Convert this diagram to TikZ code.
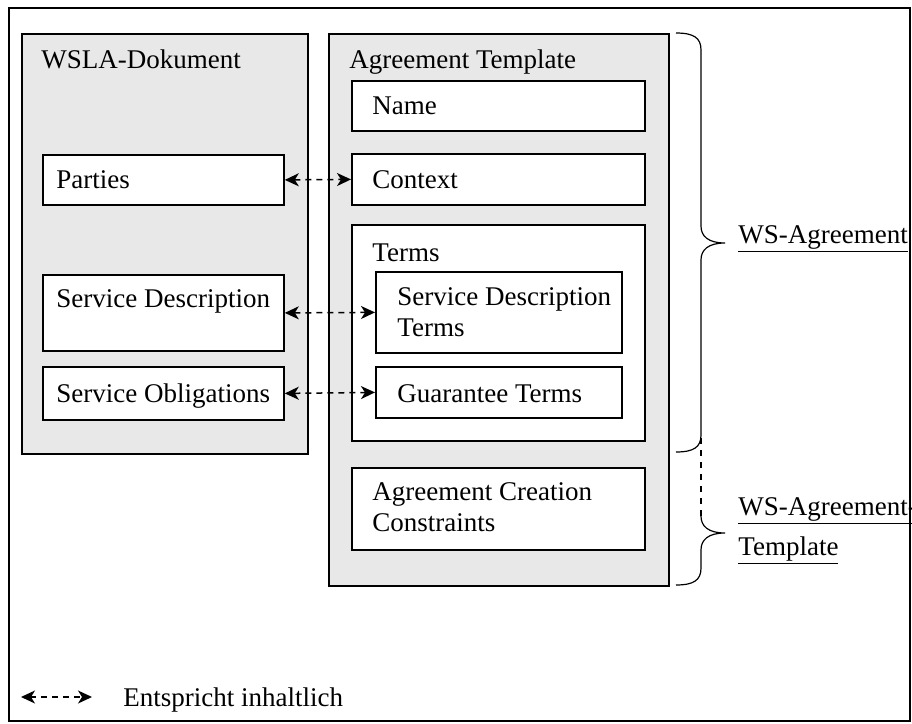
\documentclass[tikz,border=0pt]{standalone}
\usepackage{fontspec}
\setmainfont{Liberation Serif}
\usetikzlibrary{arrows.meta, positioning}
\definecolor{panel}{HTML}{E8E8E8}

\begin{document}
\begin{tikzpicture}[x=0.5pt, y=-0.5pt,
    font=\fontsize{13.5}{15.5}\selectfont,
    box/.style={draw, line width=0.9pt, fill=white, anchor=north west, inner sep=0pt},
    panelbox/.style={box, fill=panel},
    lbl/.style={anchor=base west, inner sep=0pt, align=left},
    equiv/.style={line width=0.75pt, dash pattern=on 3pt off 2.5pt,
        {Stealth[length=7pt,width=6.5pt,inset=2pt]}-{Stealth[length=7pt,width=6.5pt,inset=2pt]}},
    brc/.style={line width=0.6pt}]
    \useasboundingbox (0,0) rectangle (912,724);

    % Frame
    \draw[line width=0.8pt] (9,8) rectangle (910,721);

    % Panels
    \node[panelbox, minimum width=143pt, minimum height=210pt] (wsla) at (21,33) {};
    \node[panelbox, minimum width=170pt, minimum height=276pt] (tmpl) at (328,33) {};
    \node[lbl] (wslaT) at ([shift={(10pt,-17.5pt)}]wsla.north west) {WSLA-Dokument};
    \node[lbl] (tmplT) at ([shift={(10.5pt,-17.5pt)}]tmpl.north west) {Agreement Template};

    % Agreement template parts
    \node[box, minimum width=146.5pt, minimum height=25pt] (name) at (351,80) {};
    \node[box, minimum width=146.5pt, minimum height=25.5pt] (context) at (351,153) {};
    \node[box, minimum width=146.5pt, minimum height=108pt] (terms) at (351,224) {};
    \node[box, minimum width=123pt, minimum height=40.5pt] (sdterms) at (375,271) {};
    \node[box, minimum width=123pt, minimum height=25.5pt] (guar) at (375,366) {};
    \node[box, minimum width=146.5pt, minimum height=41pt] (acc) at (351,467) {};
    \node[lbl] (nameT) at ([shift={(10.5pt,-17pt)}]name.north west) {Name};
    \node[lbl] (contextT) at ([shift={(10.5pt,-17.5pt)}]context.north west) {Context};
    \node[lbl] (termsT) at ([shift={(10.5pt,-18.5pt)}]terms.north west) {Terms};
    \node[lbl] (sdtermsT) at ([shift={(11pt,-32.5pt)}]sdterms.north west) {Service Description\\Terms};
    \node[lbl] (guarT) at ([shift={(11pt,-18pt)}]guar.north west) {Guarantee Terms};
    \node[lbl] (accT) at ([shift={(10.5pt,-32pt)}]acc.north west) {Agreement Creation\\Constraints};

    % WSLA parts
    \node[box, minimum width=120.5pt, minimum height=25pt] (parties) at (42,154) {};
    \node[box, minimum width=120.5pt, minimum height=38pt] (sdesc) at (42,274) {};
    \node[box, minimum width=120.5pt, minimum height=26.5pt] (oblig) at (42,366) {};
    \node[lbl] (partiesT) at ([shift={(7pt,-17pt)}]parties.north west) {Parties};
    \node[lbl] (sdescT) at ([shift={(7pt,-16.5pt)}]sdesc.north west) {Service Description};
    \node[lbl] (obligT) at ([shift={(7pt,-18pt)}]oblig.north west) {Service Obligations};

    % Correspondences
    \draw[equiv] (parties.east) -- (context.west);
    \draw[equiv] (sdesc.east) -- (sdterms.west);
    \draw[equiv] (oblig.east) -- (guar.west);

    % Braces
    \draw[brc] (676,33) .. controls (694,33) and (701,38) .. (701,50) -- (701,226)
        .. controls (701,236) and (708,243) .. (725,243)
        .. controls (708,243) and (701,250) .. (701,260) -- (701,435)
        .. controls (701,447) and (694,452) .. (676,452);
    \draw[brc, dashed] (701,438) -- (701,516);
    \draw[brc] (701,516) .. controls (701,526) and (708,533) .. (725,533)
        .. controls (708,533) and (701,540) .. (701,550) -- (701,568)
        .. controls (701,580) and (694,585) .. (676,585);
    \node[lbl] (wsag) at (738,243) {\underline{WS-Agreement}};
    \node[lbl] (wstpl) at (738,555) {\underline{WS-Agreement-}\\[4.5pt]\underline{Template}};

    % Legend
    \coordinate (lgA) at (21,697);
    \coordinate (lgB) at (92,697);
    \draw[equiv] (lgA) -- (lgB);
    \node[lbl] (lgT) at (123,706) {Entspricht inhaltlich};
\end{tikzpicture}
\end{document}
